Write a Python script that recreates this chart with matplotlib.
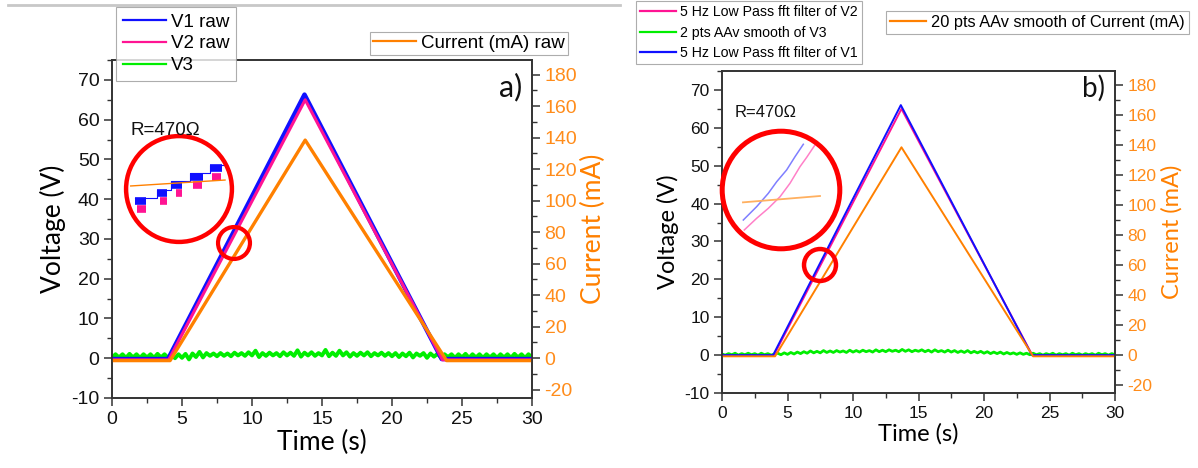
import matplotlib
matplotlib.use("Agg")
import matplotlib.pyplot as plt
import numpy as np
from matplotlib.patches import Circle
from matplotlib.lines import Line2D
from matplotlib.ticker import MultipleLocator

plt.rcParams["axes.unicode_minus"] = False

# ---------------- data ----------------
# panel a (raw)
t_v1_a = [0, 4.0, 13.75, 23.55, 30]
v1_a = [-0.2, -0.2, 66.3, -0.2, -0.2]
t_v2_a = [0, 4.05, 13.8, 23.6, 30]
v2_a = [-0.4, -0.4, 65.0, -0.4, -0.4]
t_cur_a = [0, 4.15, 13.8, 23.9, 30]
cur_a = [-1.5, -1.5, 138.5, -1.5, -1.5]
v3_a = [0.1, 1.0, 0.2, 1.0, 0.1, 1.1, 0.2, 1.0, 0.1, 1.0, 0.2, 1.0, 0.1, 1.1, 0.2, 1.0, 0.1,
        0.9, 0.0, 1.0, 0.1, 1.1, -0.3, 1.2, 0.3,
        1.6, 0.2, 1.3, 0.6, 1.2, 0.5, 1.3, 0.6, 1.2, 0.5, 1.4, 0.7, 1.3, 0.6, 1.5, 0.7,
        1.9, 0.3, 1.3, 0.6, 1.4, 0.7, 1.3, 0.5, 1.5, 0.7, 1.4, 0.6, 2.0, 0.4, 1.4, 0.7,
        1.5, 0.6, 1.3, 0.7, 2.1, 0.5, 1.4, 0.6, 1.9, 0.7, 1.5, 0.4, 1.3, 0.6, 1.4, 0.7,
        1.5, 0.5, 1.3, 0.7, 1.4, 0.6, 1.3, 0.5,
        1.3, 0.3, 1.2, 0.5, 1.4, 0.2, 1.2, 0.6, 1.3, 0.1, 1.2, 0.4, 1.1, 0.2, 1.0, 0.3,
        1.0, 0.1, 1.0, 0.2, 1.1, 0.1, 1.0, 0.2, 1.0, 0.1, 1.0, 0.2, 1.0, 0.1, 1.0, 0.2,
        1.0, 0.1, 1.1, 0.2, 1.0, 0.1, 1.0, 0.2]

# panel b (filtered)
t_v1_b = [0, 3.9, 13.65, 23.65, 30]
v1_b = [0.0, 0.0, 66.0, 0.0, 0.0]
t_v2_b = [0, 3.95, 13.7, 23.7, 30]
v2_b = [-0.1, -0.1, 65.0, -0.1, -0.1]
t_cur_b = [0, 4.05, 13.7, 23.75, 30]
cur_b = [-0.8, -0.8, 138.5, -0.8, -0.8]
v3_b = [0.3, 0.0, 0.4, 0.1, 0.5, 0.0, 0.4, 0.1, 0.5, 0.1, 0.4, 0.0, 0.5, 0.1, 0.4, 0.0, 0.3,
        0.5, 0.1, 0.6, 0.2, 0.7, 0.3, 0.8, 0.4,
        0.9, 0.5, 1.1, 0.6, 1.0, 0.6, 1.2, 0.7, 1.1, 0.7, 1.2, 0.8, 1.1, 0.7, 1.3, 0.8,
        1.2, 0.8, 1.3, 0.9, 1.2, 0.8, 1.4, 0.9, 1.3, 0.9, 1.4, 1.0, 1.3, 0.9, 1.5, 1.0,
        1.4, 0.9, 1.3, 1.0, 1.4, 0.9, 1.3, 0.8, 1.4, 0.9, 1.2, 0.8, 1.3, 0.8, 1.2, 0.7,
        1.1, 0.7, 1.2, 0.6, 1.0, 0.6, 1.0, 0.5,
        0.9, 0.4, 0.8, 0.4, 0.8, 0.3, 0.7, 0.3, 0.6, 0.2, 0.6, 0.2, 0.5, 0.1, 0.5, 0.1,
        0.4, 0.0, 0.4, 0.1, 0.5, 0.0, 0.4, 0.1, 0.4, 0.0, 0.5, 0.1, 0.4, 0.0, 0.4, 0.1,
        0.4, 0.0, 0.5, 0.1, 0.4, 0.0, 0.4, 0.1]

x_ticks = [0, 5, 10, 15, 20, 25, 30]
v_ticks = [-10, 0, 10, 20, 30, 40, 50, 60, 70]
i_ticks = [-20, 0, 20, 40, 60, 80, 100, 120, 140, 160, 180]

# zoom-in insets (local coordinates inside the circle, 0..1)
ins_a_blue_u = [[0.09, 0.19], [0.30, 0.39], [0.43, 0.53], [0.60, 0.72], [0.79, 0.90]]
ins_a_blue_v = [0.385, 0.465, 0.54, 0.615, 0.69]
ins_a_pink_u = [[0.11, 0.19], [0.32, 0.39], [0.47, 0.53], [0.63, 0.71], [0.81, 0.89]]
ins_a_pink_v = [0.315, 0.39, 0.465, 0.54, 0.615]
ins_a_or_u = [0.053, 0.926]
ins_a_or_v = [0.528, 0.583]

ins_b_blue_u = [0.186, 0.297, 0.394, 0.464, 0.547, 0.617, 0.686]
ins_b_blue_v = [0.25, 0.361, 0.472, 0.569, 0.667, 0.778, 0.881]
ins_b_pink_u = [0.194, 0.297, 0.394, 0.492, 0.575, 0.658, 0.714, 0.783]
ins_b_pink_v = [0.167, 0.264, 0.347, 0.444, 0.556, 0.694, 0.772, 0.875]
ins_b_or_u = [0.183, 0.825]
ins_b_or_v = [0.397, 0.45]

# ---------------- style ----------------
W, H = 1198, 468
BLUE = "#1010ff"
PINK = "#ff1493"
GREEN = "#00ee00"
ORANGE = "#ff8000"
ORANGE_T = "#ff8c1a"
TICKF = "Liberation Sans"
LABF = "Lato"

fig = plt.figure(figsize=(W / 100, H / 100), dpi=100)


def px_rect(x0, y0, x1, y1):
    return [x0 / W, 1 - y1 / H, (x1 - x0) / W, (y1 - y0) / H]


V_LIM = (-10, 75)
I_SCALE = 180 / 71.3
I_LIM = (V_LIM[0] * I_SCALE, V_LIM[1] * I_SCALE)


def setup(ax, ax2, fs):
    ax.set_xlim(0, 30)
    ax.set_ylim(*V_LIM)
    ax2.set_ylim(*I_LIM)
    ax.set_xticks(x_ticks)
    ax.set_yticks(v_ticks)
    ax2.set_yticks(i_ticks)
    ax.xaxis.set_minor_locator(MultipleLocator(2.5))
    ax.yaxis.set_minor_locator(MultipleLocator(5))
    ax2.yaxis.set_minor_locator(MultipleLocator(10))
    for a in (ax, ax2):
        a.tick_params(which="major", length=6, width=1.1, direction="out", color="#333333")
        a.tick_params(which="minor", length=3.5, width=1.0, direction="out", color="#333333")
        for s in a.spines.values():
            s.set_color("#333333")
            s.set_linewidth(1.2)
    for lab in ax.get_xticklabels() + ax.get_yticklabels():
        lab.set_fontfamily(TICKF)
        lab.set_fontsize(fs)
        lab.set_color("#111111")
    for lab in ax2.get_yticklabels():
        lab.set_fontfamily(TICKF)
        lab.set_fontsize(fs)
        lab.set_color(ORANGE_T)
    ax.tick_params(axis="both", pad=3)
    ax2.tick_params(axis="y", pad=3)


def circle_inset(rect_px, lw):
    iax = fig.add_axes(px_rect(*rect_px))
    iax.set_xlim(0, 1)
    iax.set_ylim(0, 1)
    iax.axis("off")
    clip = Circle((0.5, 0.5), 0.5, transform=iax.transAxes, facecolor="none", edgecolor="none")
    iax.add_patch(clip)
    ring = Circle((0.5, 0.5), 0.5 - 0.01, transform=iax.transAxes, facecolor="none",
                  edgecolor="#ff0000", linewidth=lw, zorder=10, clip_on=False)
    iax.add_patch(ring)
    return iax, clip


def small_circle(cx, cy, r, lw):
    iax = fig.add_axes(px_rect(cx - r, cy - r, cx + r, cy + r))
    iax.axis("off")
    iax.add_patch(Circle((0.5, 0.5), 0.47, transform=iax.transAxes, facecolor="none",
                         edgecolor="#ff0000", linewidth=lw, clip_on=False))


def legend(handles, labels, loc, anchor, size, hl, spacing, pad=0.15):
    lg = fig.legend(handles, labels, loc=loc, bbox_to_anchor=anchor,
                    prop={"family": TICKF, "size": size}, frameon=True, fancybox=False,
                    edgecolor="#999999", borderpad=pad, handlelength=hl, handletextpad=0.3,
                    labelspacing=spacing, borderaxespad=0)
    lg.get_frame().set_linewidth(0.8)
    for ln in lg.get_lines():
        ln.set_linewidth(1.6)
    return lg


# ================= panel a =================
axa = fig.add_axes(px_rect(112, 60, 532, 398))
axa2 = axa.twinx()
t_a = np.linspace(0, 30, len(v3_a))
axa.plot(t_a, v3_a, color=GREEN, lw=2.8, zorder=2)
axa.plot(t_v1_a, v1_a, color=BLUE, lw=3.2, zorder=3)
axa.plot(t_v2_a, v2_a, color=PINK, lw=2.2, zorder=4)
axa2.plot(t_cur_a, cur_a, color=ORANGE, lw=2.4)
setup(axa, axa2, 14)
axa.set_xlabel("Time (s)", fontfamily=LABF, fontsize=19, labelpad=2)
axa.set_ylabel("Voltage (V)", fontfamily=LABF, fontsize=19, labelpad=4)
axa2.set_ylabel("Current (mA)", fontfamily=LABF, fontsize=19, color=ORANGE, labelpad=3)
axa.text(0.976, 0.92, "a)", transform=axa.transAxes, ha="right", va="center",
         fontfamily=LABF, fontsize=22, color="#111111")

h1 = [Line2D([], [], color=BLUE), Line2D([], [], color=PINK), Line2D([], [], color=GREEN)]
legend(h1, ["V1 raw", "V2 raw", "V3"], "upper left", (116 / W, 1 - 7 / H), 13.5, 2.3, 0.25,
       pad=0.35)
legend([Line2D([], [], color=ORANGE)], ["Current (mA) raw"], "upper right",
       (568 / W, 1 - 32 / H), 13.5, 2.3, 0.3)

fig.text(130 / W, 1 - 135 / H, "R=470\u03a9", fontfamily=TICKF, fontsize=13.5, color="#111111")
ia, clip_a = circle_inset((125, 135, 233, 243), 3.2)
for (u0, u1), v in zip(ins_a_pink_u, ins_a_pink_v):
    ia.plot([u0, u1], [v, v], color=PINK, lw=5.5, solid_capstyle="butt", clip_path=clip_a)
for (u0, u1), v in zip(ins_a_blue_u, ins_a_blue_v):
    ia.plot([u0, u1], [v, v], color=BLUE, lw=5.5, solid_capstyle="butt", clip_path=clip_a)
bu = [seg[0] for seg in ins_a_blue_u] + [0.926]
bv = [v + 0.03 for v in ins_a_blue_v] + [0.80]
ia.step(bu, bv, where="post", color=BLUE, lw=0.8, clip_path=clip_a)
ia.plot(ins_a_or_u, ins_a_or_v, color=ORANGE, lw=1.0, clip_path=clip_a)
small_circle(234, 243, 17, 3.0)

# ================= panel b =================
axb = fig.add_axes(px_rect(722, 71, 1115, 393))
axb2 = axb.twinx()
t_b = np.linspace(0, 30, len(v3_b))
axb.plot(t_b, v3_b, color=GREEN, lw=2.0, zorder=2)
axb.plot(t_v2_b, v2_b, color=PINK, lw=1.4, zorder=3)
axb.plot(t_v1_b, v1_b, color=BLUE, lw=1.4, zorder=4)
axb2.plot(t_cur_b, cur_b, color=ORANGE, lw=1.4)
setup(axb, axb2, 12.5)
axb.set_xlabel("Time (s)", fontfamily=LABF, fontsize=17, labelpad=2)
axb.set_ylabel("Voltage (V)", fontfamily=LABF, fontsize=17, labelpad=4)
axb2.set_ylabel("Current (mA)", fontfamily=LABF, fontsize=17, color=ORANGE, labelpad=3)
axb.text(0.975, 0.945, "b)", transform=axb.transAxes, ha="right", va="center",
         fontfamily=LABF, fontsize=20, color="#111111")

h3 = [Line2D([], [], color=PINK), Line2D([], [], color=GREEN), Line2D([], [], color=BLUE)]
legend(h3, ["5 Hz Low Pass fft filter of V2", "2 pts AAv smooth of V3",
            "5 Hz Low Pass fft filter of V1"], "upper left", (636 / W, 1 - 1 / H), 10.2, 2.5, 0.45,
       pad=0.3)
legend([Line2D([], [], color=ORANGE)], ["20 pts AAv smooth of Current (mA)"], "upper left",
       (886 / W, 1 - 11 / H), 11.8, 2.2, 0.3, pad=0.25)

fig.text(735 / W, 1 - 117 / H, "R=470\u03a9", fontfamily=TICKF, fontsize=12, color="#111111")
ib, clip_b = circle_inset((721, 130, 841, 250), 3.6)
ib.plot(ins_b_blue_u, ins_b_blue_v, color="#7f7fff", lw=1.1, clip_path=clip_b)
ib.plot(ins_b_pink_u, ins_b_pink_v, color="#ff80c8", lw=1.1, clip_path=clip_b)
ib.plot(ins_b_or_u, ins_b_or_v, color="#ffb060", lw=1.3, clip_path=clip_b)
small_circle(820, 265, 17, 3.2)

# separator line at the top
fig.add_artist(Line2D([8 / W, 620 / W], [1 - 5 / H, 1 - 5 / H], color="#c8c8c8", lw=2.0))

fig.savefig("out.png", dpi=100)
